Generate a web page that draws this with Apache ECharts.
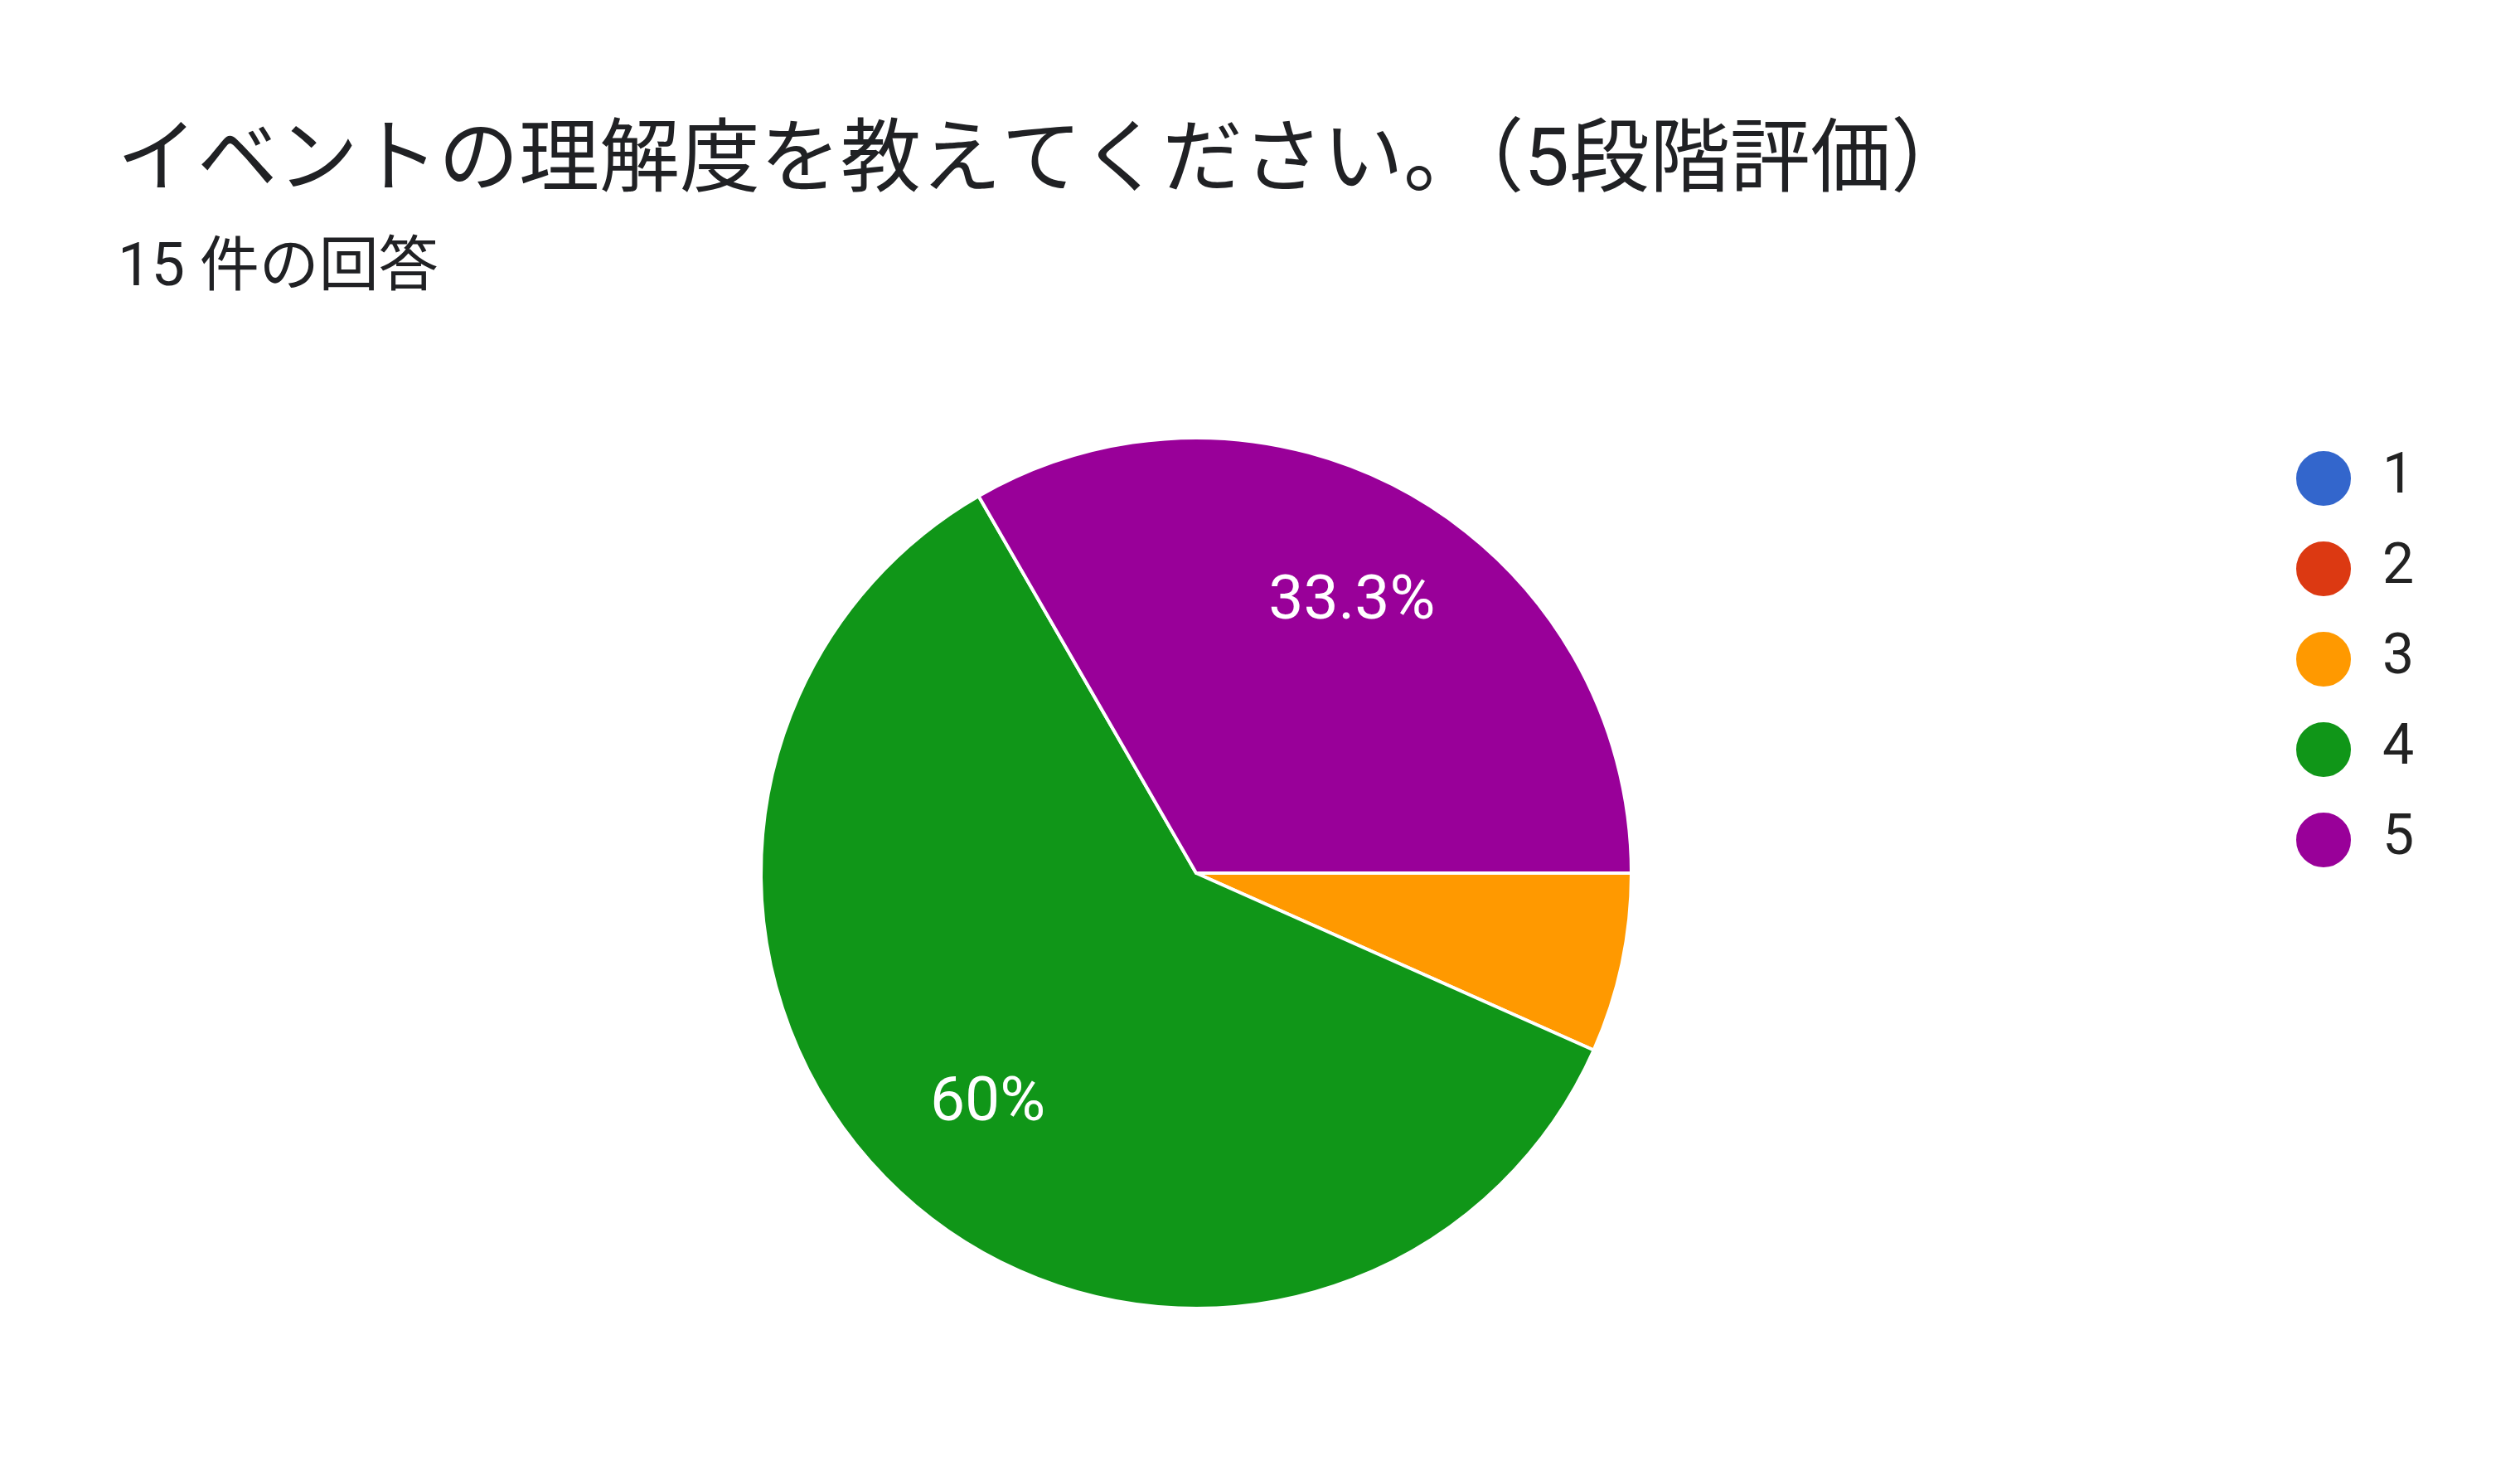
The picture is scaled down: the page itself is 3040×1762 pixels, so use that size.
<!DOCTYPE html>
<html>
<head>
<meta charset="utf-8">
<script src="https://cdn.jsdelivr.net/npm/echarts@6/dist/echarts.min.js"></script>
<style>
html,body{margin:0;padding:0;background:#fff;}
#chart{width:3040px;height:1762px;}
</style>
</head>
<body>
<div id="chart"></div>
<script>
const titleText = 'イベントの理解度を教えてください。（5段階評価）';
const subtitleText = '15 件の回答';
const categories = ['1', '2', '3', '4', '5'];
const counts = [0, 0, 1, 9, 5];
const colors = ['#3366CC', '#DC3912', '#FF9900', '#109618', '#990099'];

const fontFam = 'Roboto, "Noto Sans CJK JP", sans-serif';
const pieData = categories.map((c, i) => ({ name: c, value: counts[i], itemStyle: { color: colors[i] } }));
const R = 525;
const CENTER = [1443, 1053];

const chart = echarts.init(document.getElementById('chart'), null, { renderer: 'canvas' });
chart.setOption({
  backgroundColor: '#ffffff',
  animation: false,
  title: [
    { text: titleText, left: 136, top: 145, textStyle: { fontFamily: fontFam, fontSize: 97, fontWeight: 'normal', color: '#202124' } },
    { text: subtitleText, left: 137, top: 285, textStyle: { fontFamily: fontFam, fontSize: 72, fontWeight: 'normal', color: '#202124' } }
  ],
  legend: {
    orient: 'vertical',
    left: 2763,
    top: 537,
    icon: 'circle',
    itemWidth: 68,
    itemHeight: 68,
    itemGap: 39,
    data: categories,
    textStyle: { fontFamily: fontFam, fontSize: 68, color: '#222222', padding: [0, 0, 0, 32] }
  },
  series: [
    {
      type: 'pie',
      center: CENTER,
      radius: [0, R],
      startAngle: 0,
      clockwise: true,
      stillShowZeroSum: true,
      silent: true,
      data: pieData,
      itemStyle: { borderColor: '#ffffff', borderWidth: 4 },
      label: { show: false },
      labelLine: { show: false }
    },
    {
      type: 'pie',
      center: CENTER,
      radius: [R * 0.42, R],
      startAngle: 0,
      clockwise: true,
      silent: true,
      percentPrecision: 1,
      data: categories.map((c, i) => ({ name: c, value: counts[i], itemStyle: { color: 'rgba(0,0,0,0)' } })),
      itemStyle: { borderWidth: 0 },
      label: {
        show: true,
        position: 'inside',
        formatter: p => (p.percent >= 10 ? p.percent + '%' : ''),
        fontFamily: fontFam,
        fontSize: 75,
        color: '#ffffff'
      },
      labelLine: { show: false },
      emphasis: { disabled: true }
    }
  ]
});
</script>
</body>
</html>
